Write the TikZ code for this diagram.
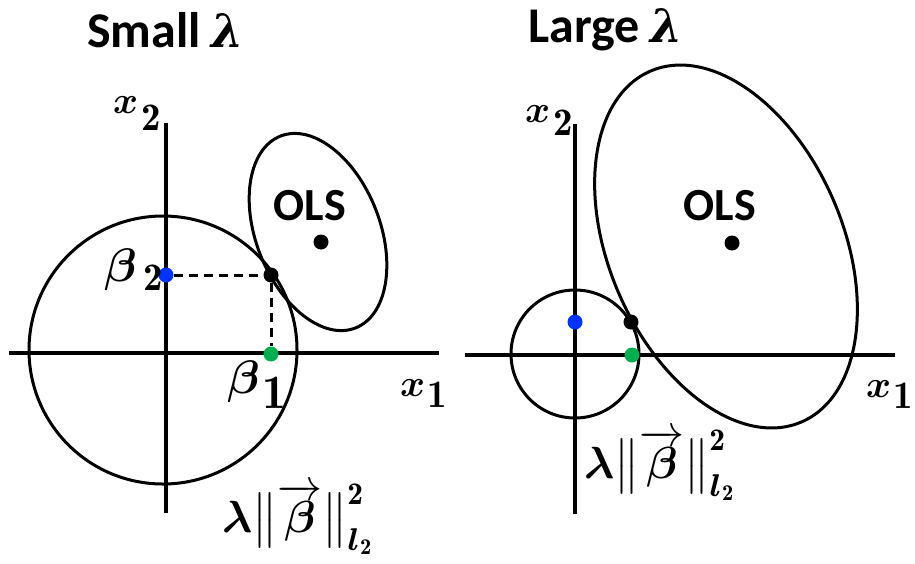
\documentclass[tikz,border=0pt]{standalone}
\usepackage{amsmath}
\usepackage{graphicx}
\usepackage{fontspec}
\newfontfamily\calibri{Carlito}
\newfontfamily\dvserif{DejaVu Serif}
\definecolor{dotblue}{RGB}{0,51,255}
\definecolor{dotgreen}{RGB}{0,176,80}
% #1 base, #2 index, #3 base scale, #4 index scale, #5 kern, #6 lowering
\newcommand\axlab[6]{\fontsize{10}{12}\selectfont\scalebox{#3}{$\boldsymbol{#1}$}\kern#5\raisebox{-#6}{\scalebox{#4}{$\mathbf{#2}$}}}
\newcommand\reglab{\fontsize{10}{12}\selectfont\scalebox{4.5}{$\boldsymbol{\lambda}\bigl\|\overrightarrow{\boldsymbol{\beta}}\bigr\|_{\boldsymbol{l}_{\mathbf{2}}}^{\mathbf{2}}$}}
\newcommand\biglam{{\dvserif\bfseries\itshape\fontsize{46}{50}\selectfont λ}}
\begin{document}
\begin{tikzpicture}[x=1pt,y=-1pt,
  axis/.style={line width=4pt},
  curve/.style={line width=3pt},
  guide/.style={line width=3pt, dash pattern=on 9pt off 6pt},
  dot/.style={circle, inner sep=0pt, minimum size=15pt},
  ttl/.style={inner sep=0pt, font=\calibri\bfseries\fontsize{50}{60}\selectfont},
  ols/.style={inner sep=0pt, font=\calibri\bfseries\fontsize{46}{55}\selectfont},
  lab/.style={inner sep=0pt},
]
\useasboundingbox (0,0) rectangle (915,563);
% ---------- left panel ----------
\node[ttl, anchor=base west] (t1) at (87,47) {Small\hspace{0.22em}\biglam};
\coordinate (v1t) at (166,123); \coordinate (v1b) at (166,513);
\coordinate (h1l) at (9,353);   \coordinate (h1r) at (439,353);
\draw[axis] (v1t) -- (v1b);
\draw[axis] (h1l) -- (h1r);
\draw[curve] (163,350) circle[radius=134pt];
\draw[curve, rotate around={-68.7:(318,232)}] (318,232) ellipse[x radius=103pt, y radius=62pt];
\node[ols] (ols1t) at (310,206) {OLS};
\node[dot, fill=black] (ols1) at (321,242) {};
\node[dot, fill=black] (tp1) at (271,275) {};
\node[dot, fill=dotblue] (b2) at (166,275) {};
\node[dot, fill=dotgreen] (b1) at (271,354) {};
\draw[guide] (b2) -- (tp1);
\draw[guide] (tp1) -- (b1);
\node[lab, anchor=base west] (x2a) at (113,113) {\axlab{x}{2}{3.8}{3.9}{3pt}{17pt}};
\node[lab, anchor=base west] (x1a) at (400,396) {\axlab{x}{1}{3.8}{3.9}{2pt}{11pt}};
\node[lab, anchor=base west] (b2l) at (104,281) {\axlab{\beta}{2}{4.7}{3.9}{7pt}{9pt}};
\node[lab, anchor=base west] (b1l) at (227,393) {\axlab{\beta}{1}{4.7}{4.8}{3pt}{15pt}};
\node[lab, anchor=base west] (r1) at (222,532) {\reglab};
% ---------- right panel ----------
\node[ttl, anchor=base west] (t2) at (528,42) {Large\hspace{0.22em}\biglam};
\coordinate (v2t) at (575,124); \coordinate (v2b) at (575,514);
\coordinate (h2l) at (465,355); \coordinate (h2r) at (895,355);
\draw[axis] (v2t) -- (v2b);
\draw[axis] (h2l) -- (h2r);
\draw[curve] (575,354) circle[radius=64pt];
\draw[curve, rotate around={-66.7:(726,246.5)}] (726,246.5) ellipse[x radius=191pt, y radius=117pt];
\node[ols] (ols2t) at (720,206) {OLS};
\node[dot, fill=black] (ols2) at (732,243) {};
\node[dot, fill=black] (tp2) at (631,322) {};
\node[dot, fill=dotblue] (c2) at (575,322) {};
\node[dot, fill=dotgreen] (c1) at (632,355) {};
\node[lab, anchor=base west] (x2b) at (525,122) {\axlab{x}{2}{3.8}{3.9}{3pt}{13pt}};
\node[lab, anchor=base west] (x1b) at (866,397) {\axlab{x}{1}{3.8}{3.9}{2pt}{11pt}};
\node[lab, anchor=base west] (r2) at (584,478) {\reglab};
\end{tikzpicture}
\end{document}
